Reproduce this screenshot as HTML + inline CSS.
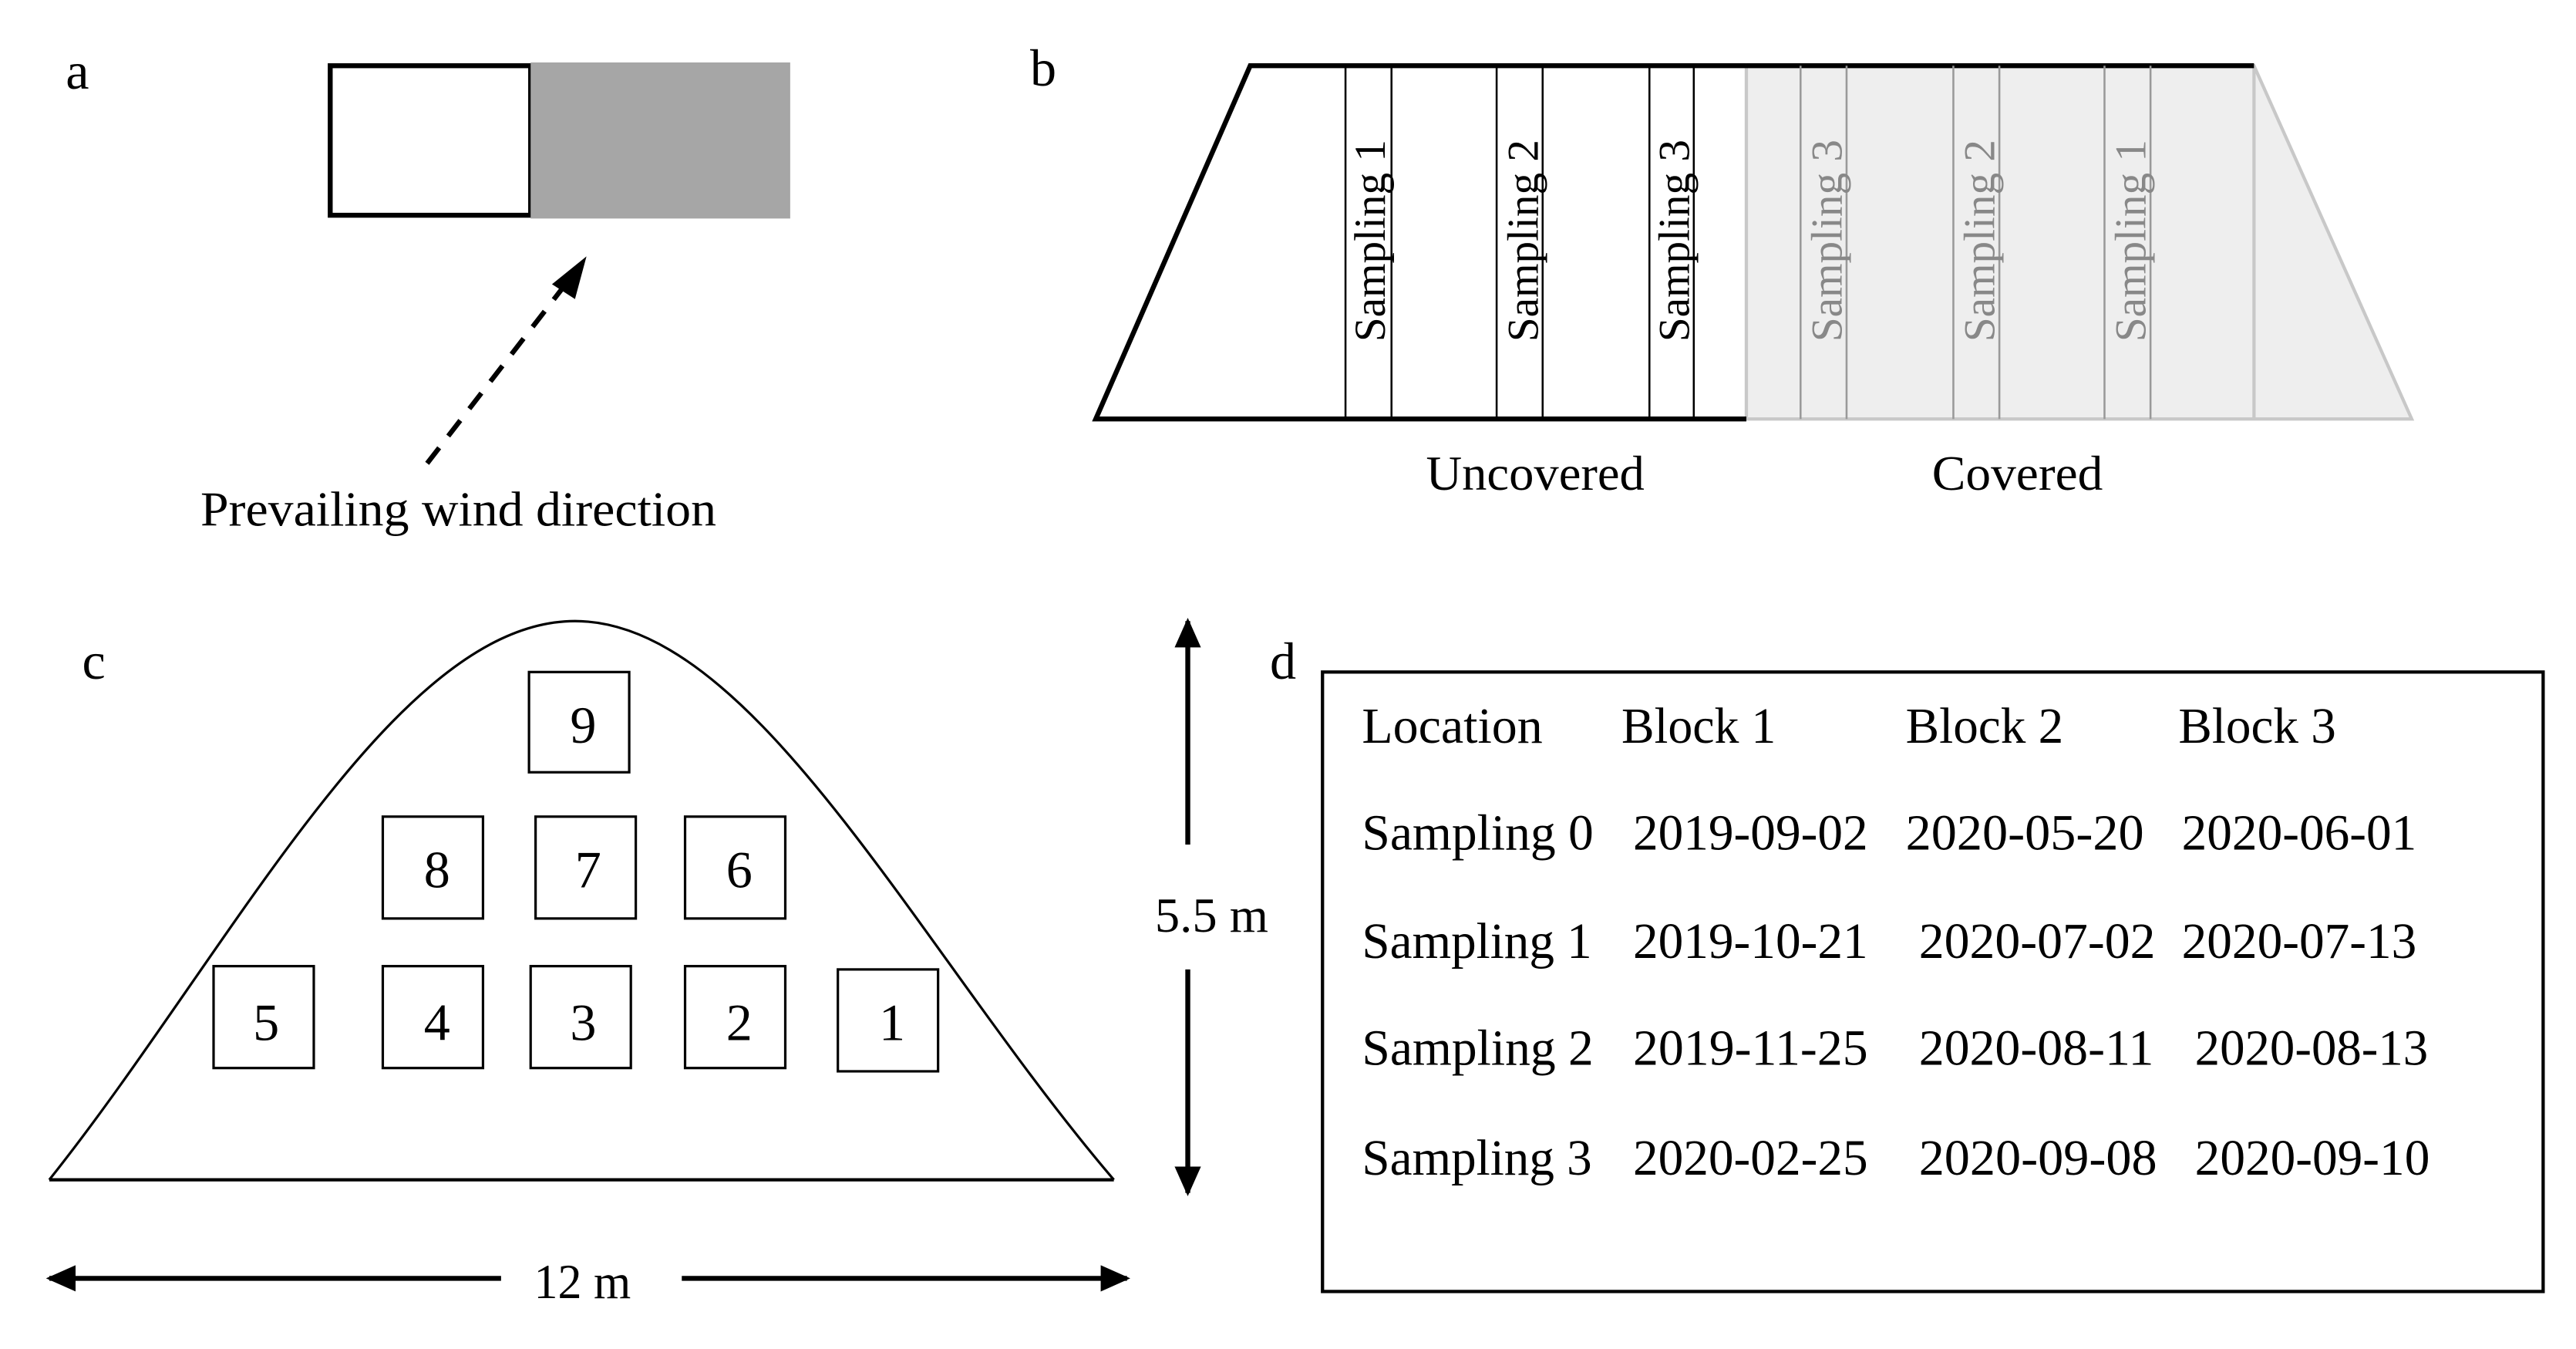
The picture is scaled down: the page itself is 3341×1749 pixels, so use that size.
<!DOCTYPE html>
<html><head><meta charset="utf-8"><style>
html,body{margin:0;padding:0;background:#fff;}
svg{display:block;}
text{font-family:"Liberation Serif",serif;}
</style></head><body>
<svg width="3341" height="1749" viewBox="0 0 1568 821" preserveAspectRatio="none" xmlns="http://www.w3.org/2000/svg">
<defs>
<marker id="ah" markerWidth="18" markerHeight="16" refX="16" refY="8" orient="auto" markerUnits="userSpaceOnUse"><path d="M0,0 L18,8 L0,16 z" fill="#000"/></marker>
</defs>
<!-- a -->
<text x="40" y="54" font-size="32">a</text>
<rect x="201" y="40" width="122" height="91" fill="#fff" stroke="#000" stroke-width="3"/>
<rect x="323" y="38" width="158" height="95" fill="#a6a6a6"/>
<line x1="260" y1="282" x2="345" y2="172" stroke="#000" stroke-width="3" stroke-dasharray="12,9"/>
<path d="M357,156 L336,173 L350,182 z" fill="#000"/>
<text x="122" y="320" font-size="30" textLength="314" lengthAdjust="spacingAndGlyphs">Prevailing wind direction</text>
<!-- b -->
<text x="627" y="52" font-size="32">b</text>
<polygon points="1063,40 1372,40 1468,255 1063,255" fill="#eeeeee" stroke="#c8c8c8" stroke-width="2"/>
<line x1="1372" y1="40" x2="1372" y2="255" stroke="#c8c8c8" stroke-width="2"/>
<polyline points="1063,40 761,40 667,255 1063,255" fill="none" stroke="#000" stroke-width="3"/>
<line x1="1063" y1="40" x2="1372" y2="40" stroke="#000" stroke-width="3"/>
<g stroke="#000" stroke-width="1.2">
<line x1="819" y1="40" x2="819" y2="255"/><line x1="847" y1="40" x2="847" y2="255"/>
<line x1="911" y1="40" x2="911" y2="255"/><line x1="939" y1="40" x2="939" y2="255"/>
<line x1="1004" y1="40" x2="1004" y2="255"/><line x1="1031" y1="40" x2="1031" y2="255"/>
</g>
<g stroke="#999" stroke-width="1.2">
<line x1="1096" y1="40" x2="1096" y2="255"/><line x1="1124" y1="40" x2="1124" y2="255"/>
<line x1="1189" y1="40" x2="1189" y2="255"/><line x1="1217" y1="40" x2="1217" y2="255"/>
<line x1="1281" y1="40" x2="1281" y2="255"/><line x1="1309" y1="40" x2="1309" y2="255"/>
</g>
<g font-size="27">
<text transform="translate(843,208) rotate(-90)" textLength="123" lengthAdjust="spacingAndGlyphs">Sampling 1</text>
<text transform="translate(936,208) rotate(-90)" textLength="123" lengthAdjust="spacingAndGlyphs">Sampling 2</text>
<text transform="translate(1028,208) rotate(-90)" textLength="123" lengthAdjust="spacingAndGlyphs">Sampling 3</text>
<text transform="translate(1121,208) rotate(-90)" textLength="123" lengthAdjust="spacingAndGlyphs" fill="#888">Sampling 3</text>
<text transform="translate(1214,208) rotate(-90)" textLength="123" lengthAdjust="spacingAndGlyphs" fill="#888">Sampling 2</text>
<text transform="translate(1306,208) rotate(-90)" textLength="123" lengthAdjust="spacingAndGlyphs" fill="#888">Sampling 1</text>
</g>
<text x="868" y="298" font-size="30" textLength="133" lengthAdjust="spacingAndGlyphs">Uncovered</text>
<text x="1176" y="298" font-size="30" textLength="104" lengthAdjust="spacingAndGlyphs">Covered</text>
<!-- c -->
<text x="50" y="413" font-size="32">c</text>
<path d="M30,718 C140,580 240,378 350,378 C460,378 560,580 678,718" fill="none" stroke="#000" stroke-width="1.5"/>
<line x1="30" y1="718" x2="678" y2="718" stroke="#000" stroke-width="2"/>
<g fill="#fff" stroke="#000" stroke-width="1.5">
<rect x="322" y="409" width="61" height="61"/>
<rect x="233" y="497" width="61" height="62"/><rect x="326" y="497" width="61" height="62"/><rect x="417" y="497" width="61" height="62"/>
<rect x="130" y="588" width="61" height="62"/><rect x="233" y="588" width="61" height="62"/><rect x="323" y="588" width="61" height="62"/><rect x="417" y="588" width="61" height="62"/><rect x="510" y="590" width="61" height="62"/>
</g>
<g font-size="32" text-anchor="middle">
<text x="355" y="452">9</text>
<text x="266" y="540">8</text><text x="358" y="540">7</text><text x="450" y="540">6</text>
<text x="162" y="633">5</text><text x="266" y="633">4</text><text x="355" y="633">3</text><text x="450" y="633">2</text><text x="543" y="633">1</text>
</g>
<line x1="723" y1="514" x2="723" y2="378" stroke="#000" stroke-width="3" marker-end="url(#ah)"/>
<line x1="723" y1="590" x2="723" y2="726" stroke="#000" stroke-width="3" marker-end="url(#ah)"/>
<text x="703" y="567" font-size="30" textLength="69" lengthAdjust="spacingAndGlyphs">5.5 m</text>
<line x1="305" y1="778" x2="30" y2="778" stroke="#000" stroke-width="3" marker-end="url(#ah)"/>
<line x1="415" y1="778" x2="686" y2="778" stroke="#000" stroke-width="3" marker-end="url(#ah)"/>
<text x="325" y="790" font-size="30" textLength="59" lengthAdjust="spacingAndGlyphs">12 m</text>
<!-- d -->
<text x="773" y="413" font-size="32">d</text>
<rect x="805" y="409" width="743" height="377" fill="#fff" stroke="#000" stroke-width="2"/>
<g font-size="31">
<text x="829" y="452" textLength="110" lengthAdjust="spacingAndGlyphs">Location</text><text x="987" y="452" textLength="94" lengthAdjust="spacingAndGlyphs">Block 1</text><text x="1160" y="452" textLength="96" lengthAdjust="spacingAndGlyphs">Block 2</text><text x="1326" y="452" textLength="96" lengthAdjust="spacingAndGlyphs">Block 3</text>
<text x="829" y="517" textLength="141" lengthAdjust="spacingAndGlyphs">Sampling 0</text><text x="994" y="517" textLength="143" lengthAdjust="spacingAndGlyphs">2019-09-02</text><text x="1160" y="517" textLength="145" lengthAdjust="spacingAndGlyphs">2020-05-20</text><text x="1328" y="517" textLength="143" lengthAdjust="spacingAndGlyphs">2020-06-01</text>
<text x="829" y="583" textLength="140" lengthAdjust="spacingAndGlyphs">Sampling 1</text><text x="994" y="583" textLength="143" lengthAdjust="spacingAndGlyphs">2019-10-21</text><text x="1168" y="583" textLength="144" lengthAdjust="spacingAndGlyphs">2020-07-02</text><text x="1328" y="583" textLength="143" lengthAdjust="spacingAndGlyphs">2020-07-13</text>
<text x="829" y="648" textLength="141" lengthAdjust="spacingAndGlyphs">Sampling 2</text><text x="994" y="648" textLength="143" lengthAdjust="spacingAndGlyphs">2019-11-25</text><text x="1168" y="648" textLength="143" lengthAdjust="spacingAndGlyphs">2020-08-11</text><text x="1336" y="648" textLength="142" lengthAdjust="spacingAndGlyphs">2020-08-13</text>
<text x="829" y="715" textLength="140" lengthAdjust="spacingAndGlyphs">Sampling 3</text><text x="994" y="715" textLength="143" lengthAdjust="spacingAndGlyphs">2020-02-25</text><text x="1168" y="715" textLength="145" lengthAdjust="spacingAndGlyphs">2020-09-08</text><text x="1336" y="715" textLength="143" lengthAdjust="spacingAndGlyphs">2020-09-10</text>
</g>
</svg>
</body></html>
